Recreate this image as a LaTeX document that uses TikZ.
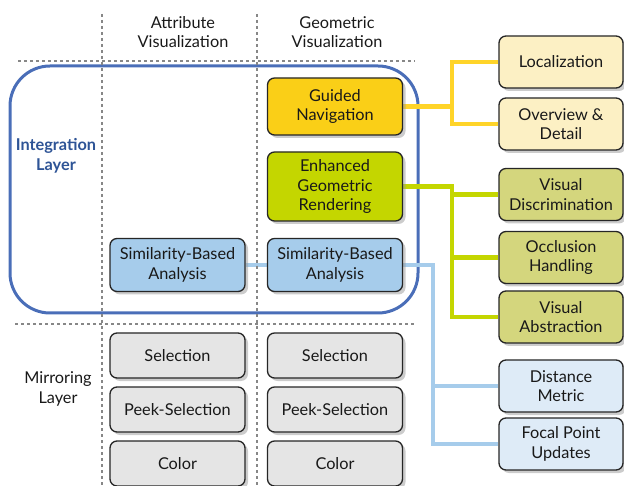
\documentclass[tikz,border=0pt]{standalone}
\usepackage{fontspec}
\setmainfont{Lato}
\usepackage{tikz}
\usetikzlibrary{arrows,shadows,backgrounds}
\definecolor{fbcfrx}{rgb}{0.98,0.81,0.09}
\definecolor{cudwqq}{rgb}{0.77,0.84,0}
\definecolor{awcdeb}{rgb}{0.65,0.8,0.92}
\definecolor{fdfqcv}{rgb}{0.99,0.94,0.77}
\definecolor{dudwxe}{rgb}{0.83,0.84,0.49}
\definecolor{ddebfx}{rgb}{0.87,0.92,0.97}
\definecolor{evevev}{rgb}{0.9,0.9,0.9}
\definecolor{uawdby}{rgb}{0.29,0.43,0.72}
\definecolor{ffdusa}{rgb}{1,0.83,0.16}
\definecolor{sfvvzx}{rgb}{0.18,0.33,0.59}
\definecolor{yyyyyy}{rgb}{0.53,0.53,0.53}

\begin{document}
\begin{tikzpicture}[line cap=round,line join=round,x=1pt,y=-1pt,
    every node/.style={font=\fontsize{16.3}{19.5}\selectfont,text=black!90,align=center},
    box/.style={draw=black!85,line width=1.3pt,rounded corners=7pt,inner sep=0pt,
      minimum width=135pt,drop shadow={shadow xshift=3pt,shadow yshift=-3pt,fill=black!40}},
    sidebox/.style={box,minimum width=124pt,minimum height=52pt},
    greybox/.style={box,fill=evevev,minimum height=45pt},
    grid/.style={color=yyyyyy,line width=1.2pt,dash pattern=on 3pt off 3pt,line cap=butt},
    link/.style={line width=4.5pt,line cap=butt,line join=miter}]
      \useasboundingbox (0,0) rectangle (624,486);
      % headers and layer names
      \node (hattr) at (183,32) {Attribute\\Visualization};
      \node (hgeom) at (337,32) {Geometric\\Visualization};
      \node (integ) at (56,156) {\color{sfvvzx}\bfseries Integration\\\color{sfvvzx}\bfseries Layer};
      \node (mirr) at (58,389) {Mirroring\\Layer};
      % integration layer
      \node[box,fill=fbcfrx,minimum height=57pt] (gnav) at (335,106.5) {Guided\\Navigation};
      \node[box,fill=cudwqq,minimum height=69pt] (egr) at (335,186.5) {Enhanced\\Geometric\\Rendering};
      \node[box,fill=awcdeb,minimum height=53pt] (simg) at (335,265) {Similarity-Based\\Analysis};
      \node[box,fill=awcdeb,minimum height=53pt] (sima) at (177.5,265) {Similarity-Based\\Analysis};
      % mirroring layer
      \node[greybox] (sela) at (177.5,355.5) {Selection};
      \node[greybox] (peeka) at (177.5,409.5) {Peek-Selection};
      \node[greybox] (cola) at (177.5,463.5) {Color};
      \node[greybox] (selg) at (335,355.5) {Selection};
      \node[greybox] (peekg) at (335,409.5) {Peek-Selection};
      \node[greybox] (colg) at (335,463.5) {Color};
      % techniques
      \node[sidebox,fill=fdfqcv] (loc) at (561,62) {Localization};
      \node[sidebox,fill=fdfqcv] (ovd) at (561,124) {Overview \&\\Detail};
      \node[sidebox,fill=dudwxe] (vdis) at (561,194.5) {Visual\\Discrimination};
      \node[sidebox,fill=dudwxe] (occ) at (561,257.5) {Occlusion\\Handling};
      \node[sidebox,fill=dudwxe] (vabs) at (561,317) {Visual\\Abstraction};
      \node[sidebox,fill=ddebfx] (dist) at (561,386) {Distance\\Metric};
      \node[sidebox,fill=ddebfx] (foc) at (561,444) {Focal Point\\Updates};
      \coordinate (ytrunk) at (452,0);
      \coordinate (gtrunk) at (452,0);
      \coordinate (btrunk) at (433,0);
      \begin{scope}[on background layer]
      \draw[color=uawdby,line width=3pt,rounded corners=40pt] (10,66) rectangle (418,313);
      \draw[link,color=ffdusa] (gnav.east) -- (gnav.east -| ytrunk);
      \draw[link,color=ffdusa] (loc.west) -| (ytrunk |- ovd.west) -- (ovd.west);
      \draw[link,color=cudwqq] (egr.east) -| (gtrunk |- vabs.west) -- (vabs.west);
      \draw[link,color=cudwqq] (vdis.west) -- (vdis.west -| gtrunk);
      \draw[link,color=cudwqq] (occ.west) -- (occ.west -| gtrunk);
      \draw[link,color=awcdeb] (simg.east) -| (btrunk |- foc.west) -- (foc.west);
      \draw[link,color=awcdeb] (dist.west) -- (dist.west -| btrunk);
      \draw[link,color=awcdeb] (sima.east) -- (simg.west);
      \draw[grid] (102,14) -- (102,486);
      \draw[grid] (257,14) -- (257,486);
      \draw[grid] (18,61) -- (415,61);
      \draw[grid] (15,324) -- (415,324);
      \end{scope}
\end{tikzpicture}
\end{document}
